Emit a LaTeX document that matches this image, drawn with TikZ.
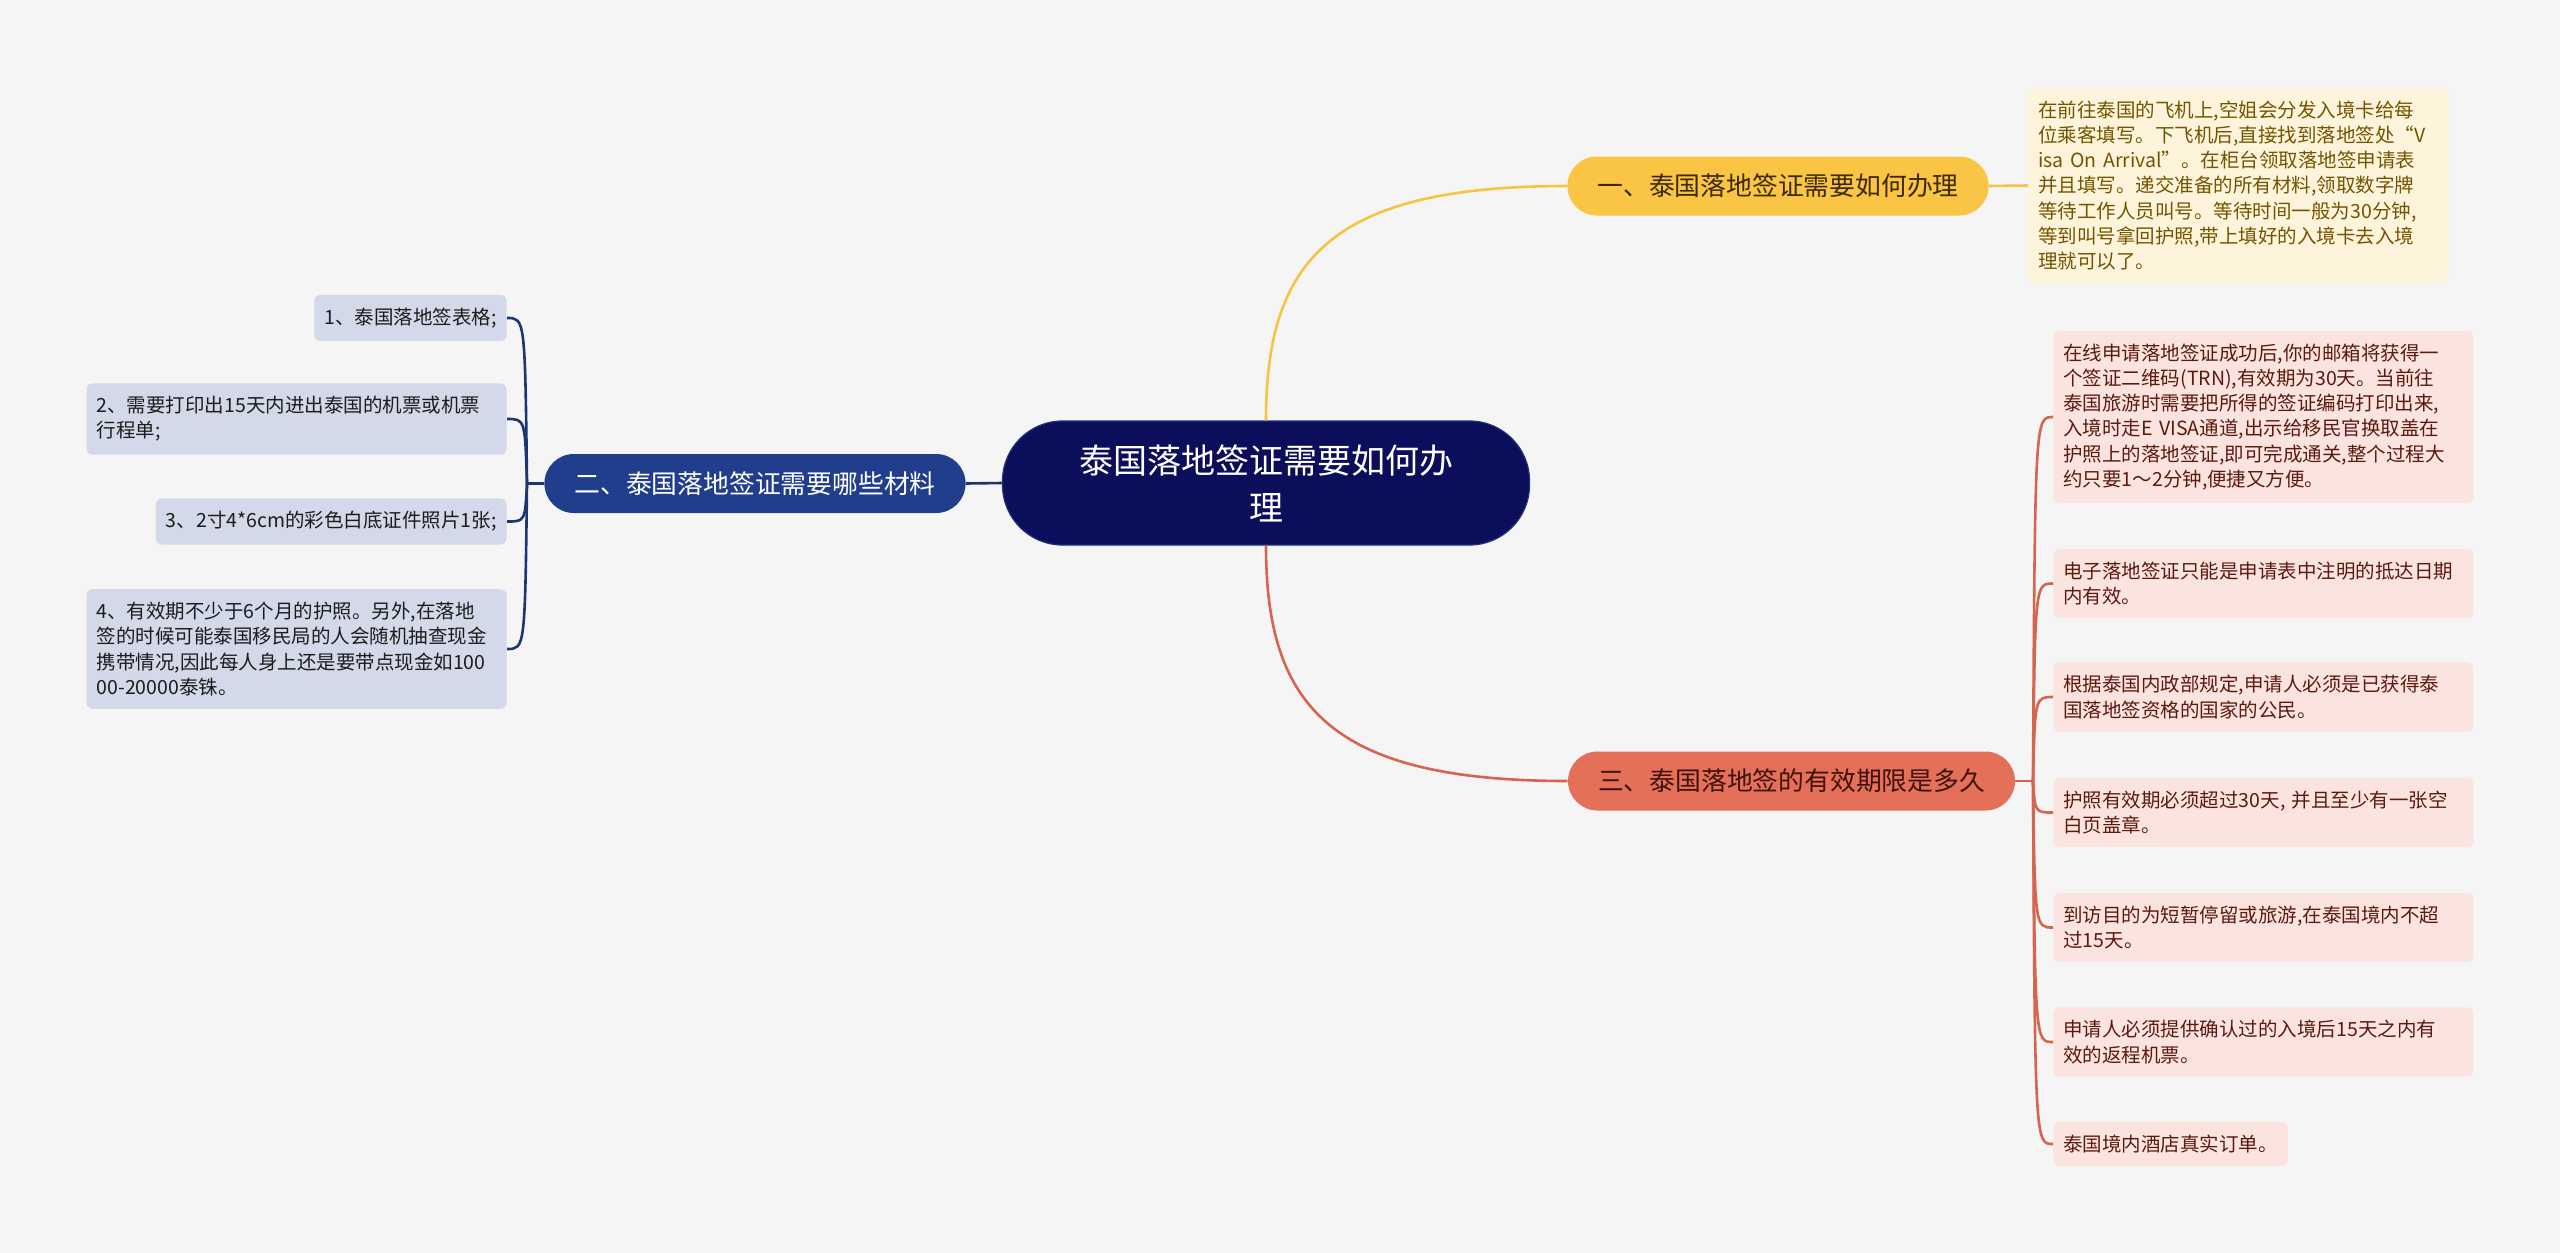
\documentclass[tikz,border=0pt]{standalone}
\usepackage{xcolor}
\usepackage{fontspec}
\setmainfont{Noto Sans CJK SC}
\usepackage{tikz}
\usetikzlibrary{calc}
\definecolor{bgcol}{HTML}{F5F5F5}
\definecolor{rootfill}{HTML}{0A0E5B}
\definecolor{rootdraw}{HTML}{23307E}
\definecolor{yelfill}{HTML}{FAC544}
\definecolor{yeltext}{HTML}{3B2A00}
\definecolor{yelnote}{HTML}{FEF4DB}
\definecolor{yelnotetext}{HTML}{735500}
\definecolor{yelline}{HTML}{F4C443}
\definecolor{bluefill}{HTML}{203E8C}
\definecolor{bluenote}{HTML}{D3D9E9}
\definecolor{bluenotetext}{HTML}{1C1C1C}
\definecolor{blueline}{HTML}{1C3670}
\definecolor{redfill}{HTML}{E5705A}
\definecolor{redtext}{HTML}{3E120A}
\definecolor{rednote}{HTML}{FBE4DF}
\definecolor{rednotetext}{HTML}{5C1A0E}
\definecolor{redline}{HTML}{D6654F}
\tikzstyle{rootnode}=[fill=rootfill, draw=rootdraw, line width=0.6pt, rounded corners=30pt, minimum width=263.5pt, minimum height=62pt, align=center, text=white, font=\fontsize{17pt}{23.5pt}\selectfont]
\tikzstyle{branchnode}=[rounded corners=14.75pt, minimum height=29.5pt, inner xsep=15pt, font=\fontsize{12.9pt}{15pt}\selectfont]
\tikzstyle{notenode}=[rounded corners=3pt, inner xsep=5pt, inner ysep=6.5pt, align=left, font=\fontsize{9.75pt}{12.6pt}\selectfont]
\tikzstyle{widenote}=[notenode, text width=200pt]
\tikzstyle{yelconn}=[draw=yelline, line width=1.3pt]
\tikzstyle{blueconn}=[draw=blueline, line width=1.3pt]
\tikzstyle{redconn}=[draw=redline, line width=1.3pt]
\begin{document}
\begin{tikzpicture}[x=0.5pt, y=-0.5pt]
\useasboundingbox (0,0) rectangle (2560,1253);
\fill[bgcol] (0,0) rectangle (2560,1253);

\node [rootnode] (root) at (1266,483) {泰国落地签证需要如何办\\理};
\node [branchnode, fill=yelfill, text=yeltext] (b1) at (1778,186) {一、泰国落地签证需要如何办理};
\node [branchnode, fill=bluefill, text=white] (b2) at (755,483.5) {二、泰国落地签证需要哪些材料};
\node [branchnode, fill=redfill, text=redtext] (b3) at (1791.5,781) {三、泰国落地签的有效期限是多久};

\node [widenote, fill=yelnote, text=yelnotetext, anchor=west] (n1) at (2028,185.5) {在前往泰国的飞机上,空姐会分发入境卡给每\\位乘客填写。下飞机后,直接找到落地签处“V\\isa On Arrival”。在柜台领取落地签申请表\\并且填写。递交准备的所有材料,领取数字牌\\等待工作人员叫号。等待时间一般为30分钟,\\等到叫号拿回护照,带上填好的入境卡去入境\\理就可以了。};

\node [notenode, fill=bluenote, text=bluenotetext, anchor=east] (m1) at (507,318) {1、泰国落地签表格;};
\node [widenote, fill=bluenote, text=bluenotetext, anchor=east] (m2) at (507,419) {2、需要打印出15天内进出泰国的机票或机票\\行程单;};
\node [notenode, fill=bluenote, text=bluenotetext, anchor=east] (m3) at (507,521.5) {3、2寸4*6cm的彩色白底证件照片1张;};
\node [widenote, fill=bluenote, text=bluenotetext, anchor=east] (m4) at (507,649) {4、有效期不少于6个月的护照。另外,在落地\\签的时候可能泰国移民局的人会随机抽查现金\\携带情况,因此每人身上还是要带点现金如100\\00-20000泰铢。};

\node [widenote, fill=rednote, text=rednotetext, anchor=west] (r1) at (2053,417) {在线申请落地签证成功后,你的邮箱将获得一\\个签证二维码(TRN),有效期为30天。当前往\\泰国旅游时需要把所得的签证编码打印出来,\\入境时走E VISA通道,出示给移民官换取盖在\\护照上的落地签证,即可完成通关,整个过程大\\约只要1～2分钟,便捷又方便。};
\node [widenote, fill=rednote, text=rednotetext, anchor=west] (r2) at (2053,583.5) {电子落地签证只能是申请表中注明的抵达日期\\内有效。};
\node [widenote, fill=rednote, text=rednotetext, anchor=west] (r3) at (2053,697) {根据泰国内政部规定,申请人必须是已获得泰\\国落地签资格的国家的公民。};
\node [widenote, fill=rednote, text=rednotetext, anchor=west] (r4) at (2053,812.5) {护照有效期必须超过30天, 并且至少有一张空\\白页盖章。};
\node [widenote, fill=rednote, text=rednotetext, anchor=west] (r5) at (2053,927.5) {到访目的为短暂停留或旅游,在泰国境内不超\\过15天。};
\node [widenote, fill=rednote, text=rednotetext, anchor=west] (r6) at (2053,1042) {申请人必须提供确认过的入境后15天之内有\\效的返程机票。};
\node [notenode, fill=rednote, text=rednotetext, anchor=west] (r7) at (2053,1144) {泰国境内酒店真实订单。};

\coordinate (s2) at (527,483.5);
\coordinate (s3) at (2033,781);

\draw[yelconn] (root.north) .. controls (1266,260) and (1330,186) .. (b1.west);
\draw[redconn] (root.south) .. controls (1266,706) and (1330,781) .. (b3.west);
\draw[blueconn] (root.west) -- (b2.east);
\draw[yelconn] (b1.east) -- (n1.west);

\draw[blueconn] (b2.west) -- (s2);
\foreach \m in {m1,m2,m3,m4}
  \draw[blueconn] (s2) .. controls ($(s2 |- \m.east)+(-2,0)$) and ($(s2 |- \m.east)+(-2,0)$) .. (\m.east);

\draw[redconn] (b3.east) -- (s3);
\foreach \r in {r1,r2,r3,r4,r5,r6,r7}
  \draw[redconn] (s3) .. controls ($(s3 |- \r.west)+(2,0)$) and ($(s3 |- \r.west)+(2,0)$) .. (\r.west);
\end{tikzpicture}
\end{document}
